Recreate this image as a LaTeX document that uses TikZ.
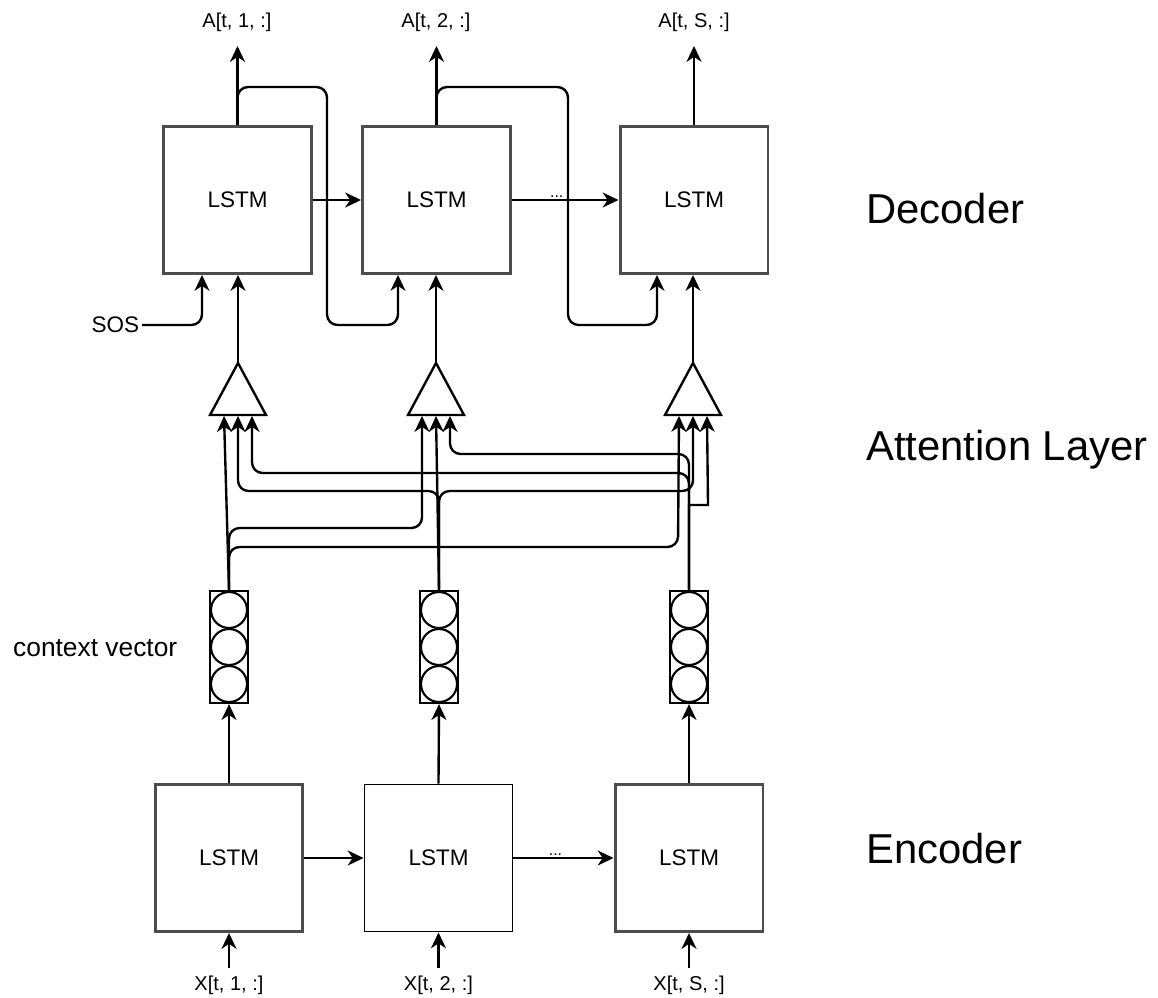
\documentclass[tikz,border=0pt]{standalone}
\usepackage{fontspec}
\setmainfont{Liberation Sans}
\usetikzlibrary{arrows.meta}
\begin{document}
\begin{tikzpicture}[x=0.02cm,y=-0.02cm,
  line width=1.35pt,
  arr/.style={-{Stealth[length=9pt,width=8.5pt,inset=2.8pt]}},
  wire/.style={arr, rounded corners=6pt},
  lstm/.style={draw=black!70, line width=1.7pt, minimum width=2.96cm, minimum height=2.94cm, inner sep=0pt, font=\fontsize{12.8}{15}\selectfont},
  lbl/.style={font=\fontsize{11.4}{13}\selectfont, inner sep=1pt},
  dots/.style={font=\fontsize{9}{10}\selectfont, inner sep=1pt},
  big/.style={font=\fontsize{23.8}{28}\selectfont, anchor=base west, inner sep=0pt},
  vecbox/.style={draw, line width=1.3pt, minimum width=0.76cm, minimum height=2.24cm, inner sep=0pt},
  cell/.style={draw, circle, line width=1.2pt, minimum size=0.72cm, inner sep=0pt},
  tri/.style={draw, line width=1.35pt, fill=white}
]
\useasboundingbox (0,0) rectangle (1158,997);

% decoder
\node[lstm] (d1) at (237.5,200) {LSTM};
\node[lstm] (d2) at (436.5,200) {LSTM};
\node[lstm] (d3) at (694,200) {LSTM};
% encoder
\node[lstm] (e1) at (229,858) {LSTM};
\node[lstm, draw=black, line width=1.1pt] (e2) at (438.5,858) {LSTM};
\node[lstm] (e3) at (689,858) {LSTM};

% context vectors
\foreach \i/\x in {1/229,2/439,3/689} {
  \node[vecbox] (cv\i) at (\x,647) {};
  \node[cell] (cv\i a) at (\x,610) {};
  \node[cell] (cv\i b) at (\x,647) {};
  \node[cell] (cv\i c) at (\x,684) {};
}

% attention triangles
\foreach \i/\x in {1/238,2/436,3/693} {
  \coordinate (t\i) at (\x,363);
  \coordinate (t\i l) at (\x-14,416);
  \coordinate (t\i c) at (\x,416);
  \coordinate (t\i r) at (\x+14,416);
  \draw[tri] (\x-28,415) -- (\x+28,415) -- (t\i) -- cycle;
}

% labels
\node[lbl] (a1) at (237,22) {A[t, 1, :]};
\node[lbl] (a2) at (436,22) {A[t, 2, :]};
\node[lbl] (a3) at (694,22) {A[t, S, :]};
\coordinate (a1t) at (237.5,46);
\coordinate (a2t) at (436.5,46);
\coordinate (a3t) at (694,46);
\node[lbl] (x1) at (229,985) {X[t, 1, :]};
\node[lbl] (x2) at (438.5,985) {X[t, 2, :]};
\node[lbl] (x3) at (689,985) {X[t, S, :]};
\coordinate (x1t) at (229,968);
\coordinate (x2t) at (438.5,968);
\coordinate (x3t) at (689,968);
\node[font=\fontsize{12.8}{15}\selectfont, inner sep=1pt, anchor=east] (sos) at (142,325) {SOS};
\node[font=\fontsize{15}{18}\selectfont, anchor=base west, inner sep=0pt] (cvl) at (12,656) {context vector};
\node[big] (ldec) at (865,223) {Decoder};
\node[big] (latt) at (865,460) {Attention Layer};
\node[big] (lenc) at (865,863) {Encoder};

% decoder connections
\draw[arr] (d1.north) -- (a1t);
\draw[arr] (d2.north) -- (a2t);
\draw[arr] (d3.north) -- (a3t);
\draw[arr] (d1.east) -- (d2.west);
\draw[arr] (d2.east) -- node[dots, above, pos=0.42] (dd) {...} (d3.west);
\draw[wire] (d1.north) -- (237.5,87) -- (327,87) -- (327,325) -- (398,325) -- ([xshift=-0.77cm]d2.south);
\draw[wire] (d2.north) -- (436.5,87) -- (568,87) -- (568,325) -- (657,325) -- ([xshift=-0.74cm]d3.south);
\draw[wire] (sos.east) -- (202,325) -- ([xshift=-0.71cm]d1.south);

% attention to decoder
\draw[arr] (t1) -- (t1 |- d1.south);
\draw[arr] (t2) -- (t2 |- d2.south);
\draw[arr] (t3) -- (t3 |- d3.south);

% context vectors to attention
\draw[arr] (cv1.north) -- (t1l);
\draw[wire] (cv1.north) -- (229,528) -- (422,528) -- (t2l);
\draw[wire] (cv1.north) -- (229,547) -- (678,547) -- (t3l);
\draw[arr] (cv2.north) -- (t2c);
\draw[wire] (cv2.north) -- (439,491) -- (238,491) -- (t1c);
\draw[wire] (cv2.north) -- (439,491) -- (693,491) -- (t3c);
\draw[wire] (cv3.north) -- (689,473) -- (252,473) -- (t1r);
\draw[wire] (cv3.north) -- (689,454) -- (450,454) -- (t2r);
\draw[arr] (cv3.north) -- (689,505) -- (708,505) -- (t3r);

% encoder connections
\draw[arr] (e1.east) -- (e2.west);
\draw[arr] (e2.east) -- node[dots, above, pos=0.42] (ed) {...} (e3.west);
\draw[arr] (x1t) -- (e1.south);
\draw[arr] (x2t) -- (e2.south);
\draw[arr] (x3t) -- (e3.south);
\draw[arr] (e1.north) -- (cv1.south);
\draw[arr] (e2.north) -- (cv2.south);
\draw[arr] (e3.north) -- (cv3.south);
\end{tikzpicture}
\end{document}
